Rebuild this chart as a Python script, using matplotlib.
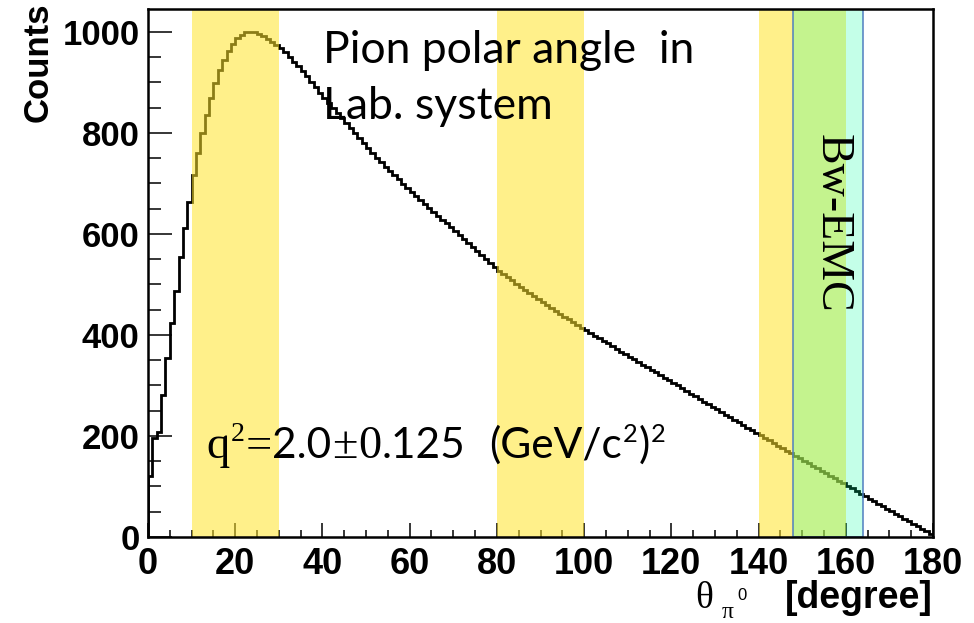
import matplotlib
matplotlib.use("Agg")
import matplotlib.pyplot as plt
import numpy as np
from matplotlib.transforms import IdentityTransform
from matplotlib.ticker import MultipleLocator

# ---------------- data ----------------
bin_edges = np.arange(0, 181, 1)  # 1-degree bins, 0..180
counts = [
    120, 195, 208, 281, 354, 424, 486, 555, 611, 664,
    717, 760, 799, 836, 869, 898, 925, 945, 961, 976,
    987, 994, 999, 1000, 999, 996, 991, 986, 980, 973,
    967, 959, 950, 941, 932, 922, 912, 901, 890, 879,
    869, 859, 849, 839, 829, 819, 809, 799, 789, 779,
    769, 760, 751, 742, 733, 725, 716, 708, 699, 691,
    683, 675, 667, 659, 651, 644, 636, 628, 621, 613,
    605, 597, 589, 582, 574, 566, 558, 550, 542, 534,
    527, 520, 514, 508, 501, 495, 489, 483, 477, 471,
    465, 459, 453, 447, 442, 436, 431, 425, 420, 414,
    409, 404, 398, 393, 388, 383, 378, 372, 367, 362,
    357, 352, 346, 341, 336, 331, 326, 320, 315, 310,
    305, 300, 294, 289, 284, 279, 274, 268, 263, 258,
    253, 248, 242, 237, 232, 227, 222, 216, 211, 206,
    201, 196, 191, 186, 181, 176, 171, 166, 161, 156,
    151, 146, 141, 136, 131, 126, 121, 116, 111, 106,
    101, 96, 91, 86, 81, 76, 71, 66, 61, 56,
    51, 46, 41, 36, 31, 26, 21, 16, 11, 5,
]
yellow_bands = [(10, 30), (80, 100), (140, 160)]
emc_band = (147.8, 164.0)
x_ticks = list(range(0, 181, 20))
y_ticks = list(range(0, 1001, 200))

# ---------------- figure ----------------
W, H, DPI = 974, 623, 100
fig = plt.figure(figsize=(W / DPI, H / DPI), dpi=DPI)
ax = fig.add_axes([148 / W, (H - 537) / H, (933 - 148) / W, (537 - 9) / H])

ax.stairs(counts, bin_edges, baseline=0, color="black", lw=2.0, zorder=2)

for a, b in yellow_bands:
    ax.axvspan(a, b, facecolor=(1.0, 228 / 255, 42 / 255), alpha=0.55,
               lw=0, zorder=3)
ax.axvspan(emc_band[0], emc_band[1], facecolor=(0.0, 1.0, 0.61, 0.23),
           edgecolor="#4F7FC0", lw=1.1, zorder=4)

ax.set_xlim(0, 180)
ax.set_ylim(0, 1045)
ax.set_xticks(x_ticks)
ax.set_yticks(y_ticks)
ax.xaxis.set_minor_locator(MultipleLocator(5))
ax.yaxis.set_minor_locator(MultipleLocator(50))
ax.tick_params(axis="x", which="major", direction="in", length=10, width=1.1,
               pad=7, top=False)
ax.tick_params(axis="x", which="minor", direction="in", length=5, width=1.1,
               top=False)
ax.tick_params(axis="y", which="major", direction="in", length=17, width=1.1,
               pad=6, right=False)
ax.tick_params(axis="y", which="minor", direction="in", length=9.5, width=1.1,
               right=False)
for lab in ax.get_xticklabels():
    lab.set_family(["Liberation Sans Narrow", "Liberation Sans"])
    lab.set_fontweight("bold")
    lab.set_fontsize(26)
for lab in ax.get_yticklabels():
    lab.set_family("Liberation Sans")
    lab.set_fontweight("bold")
    lab.set_fontsize(25)
for sp in ax.spines.values():
    sp.set_linewidth(1.8)
    sp.set_zorder(10)

# axis titles
fig.text(38 / W, 1 - 3 / H, "Counts", rotation=90, ha="center", va="top",
         family="Liberation Sans", fontweight="bold", fontsize=25)

# annotations
sans = ["Lato", "DejaVu Sans"]
serif = ["Liberation Serif", "DejaVu Serif"]
ax.text(40.2, 1004, "Pion polar angle  in", family=sans, fontsize=32,
        va="top", ha="left", zorder=6)
ax.text(40.2, 893, "Lab. system", family=sans, fontsize=32,
        va="top", ha="left", zorder=6)
ax.text(156.9, 620, "Bw-EMC", family=serif, fontsize=33, rotation=-90,
        ha="center", va="center", zorder=6)

fig.canvas.draw()
renderer = fig.canvas.get_renderer()


def chain(x0, y0, segments):
    """Draw text segments one after another from pixel (x0, y0) baseline."""
    x = x0
    for txt, fam, size, dy, gap in segments:
        x += gap
        t = fig.text(x, y0 + dy, txt, family=fam, fontsize=size,
                     transform=IdentityTransform(), va="baseline", ha="left",
                     zorder=6)
        x += t.get_window_extent(renderer).width
    return x


# q^2 line (pixel coordinates measured from bottom)
S = 30.5
chain(206, H - 458, [
    ("q", serif, S + 3, 0, 0),
    ("2", serif, (S + 3) * 0.6, 17, 1),
    ("=", serif, S + 3, 0, 1),
    ("2.0", sans, S, 0, 1),
    ("±", serif, S + 3, 0, 1),
    ("0", serif, S + 3, 0, 0),
    (".125", sans, S, 0, 0),
    ("(GeV/c", sans, S, 0, 24),
    ("2", sans, S * 0.6, 16, 1),
    (")", sans, S, 0, 1),
    ("2", sans, S * 0.6, 16, 1),
])

# x axis title: theta_{pi^0} [degree], right aligned at 932 px
base = H - 608
t_deg = fig.text(933, base, "[degree]", family="Liberation Sans",
                 fontweight="bold", fontsize=27, transform=IdentityTransform(),
                 ha="right", va="baseline")
x_right = t_deg.get_window_extent(renderer).x0 - 38
t0 = fig.text(x_right, base + 8, "0", family="Liberation Sans",
              fontsize=12, transform=IdentityTransform(), ha="right",
              va="baseline")
x_right = t0.get_window_extent(renderer).x0 - 4
tpi = fig.text(x_right, base - 10, "π", family=serif, fontsize=17,
               transform=IdentityTransform(), ha="right", va="baseline")
x_right = tpi.get_window_extent(renderer).x0 - 9
fig.text(x_right, base, "θ", family=serif, fontsize=27,
         transform=IdentityTransform(), ha="right", va="baseline")

fig.savefig("out.png", dpi=DPI)
